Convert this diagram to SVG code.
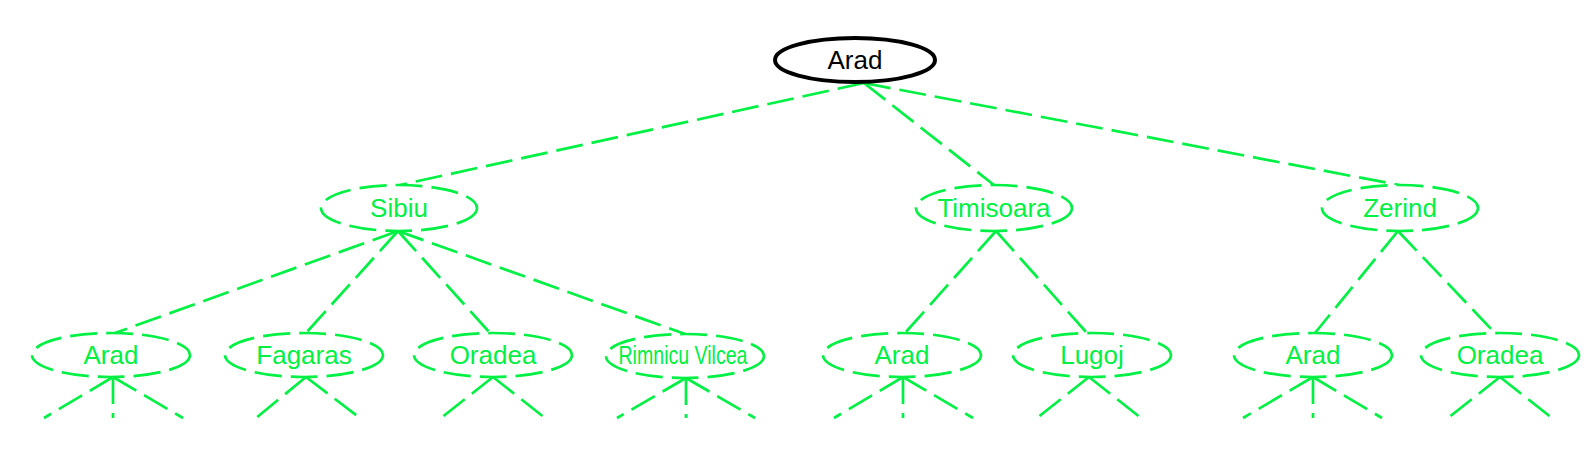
<svg xmlns="http://www.w3.org/2000/svg" width="1596" height="460" viewBox="0 0 1596 460">
<style>
.e{stroke:#00f044;stroke-width:2.7;stroke-dasharray:27 9;fill:none}
.n{fill:#ffffff;stroke:#00f044;stroke-width:2.7;stroke-dasharray:27 9}
.t{font-family:"Liberation Sans",Arial,sans-serif;font-size:26px;text-anchor:middle;fill:#00f044}
.root{fill:#ffffff;stroke:#000000;stroke-width:4}
.rt{font-family:"Liberation Sans",Arial,sans-serif;font-size:26px;text-anchor:middle;fill:#000000}
</style>
<rect width="1596" height="460" fill="#ffffff"/>
<g id="connectors">
<line class="e" x1="864" y1="83" x2="400" y2="185"/>
<line class="e" x1="864" y1="83" x2="994" y2="185"/>
<line class="e" x1="864" y1="83" x2="1399" y2="185"/>
<line class="e" x1="398" y1="231" x2="115" y2="333"/>
<line class="e" x1="398" y1="231" x2="306" y2="333"/>
<line class="e" x1="398" y1="231" x2="490" y2="333"/>
<line class="e" x1="398" y1="231" x2="685" y2="334"/>
<line class="e" x1="996" y1="231" x2="905" y2="333"/>
<line class="e" x1="996" y1="231" x2="1087" y2="333"/>
<line class="e" x1="1398" y1="231" x2="1315" y2="333"/>
<line class="e" x1="1398" y1="231" x2="1495" y2="333"/>
<line class="e" x1="113" y1="377" x2="44" y2="418"/>
<line class="e" x1="113" y1="377" x2="113" y2="418"/>
<line class="e" x1="113" y1="377" x2="183" y2="418"/>
<line class="e" x1="306" y1="377" x2="256" y2="418"/>
<line class="e" x1="306" y1="377" x2="360" y2="418"/>
<line class="e" x1="493" y1="377" x2="441" y2="418"/>
<line class="e" x1="493" y1="377" x2="545" y2="418"/>
<line class="e" x1="686" y1="378" x2="617" y2="418"/>
<line class="e" x1="686" y1="378" x2="686" y2="418"/>
<line class="e" x1="686" y1="378" x2="755" y2="418"/>
<line class="e" x1="903" y1="377" x2="834" y2="418"/>
<line class="e" x1="903" y1="377" x2="903" y2="418"/>
<line class="e" x1="903" y1="377" x2="973" y2="418"/>
<line class="e" x1="1089" y1="377" x2="1037" y2="418"/>
<line class="e" x1="1089" y1="377" x2="1141" y2="418"/>
<line class="e" x1="1313" y1="377" x2="1243" y2="418"/>
<line class="e" x1="1313" y1="377" x2="1313" y2="418"/>
<line class="e" x1="1313" y1="377" x2="1382" y2="418"/>
<line class="e" x1="1500" y1="377" x2="1448" y2="418"/>
<line class="e" x1="1500" y1="377" x2="1552" y2="418"/>
</g>
<g id="n0"><ellipse class="root" cx="855" cy="60" rx="80" ry="22"/><text class="rt" x="855" y="69">Arad</text></g>
<g id="n1"><ellipse class="n" cx="399" cy="208" rx="78" ry="23"/><text class="t" x="399" y="217">Sibiu</text></g>
<g id="n2"><ellipse class="n" cx="994" cy="208" rx="78" ry="23"/><text class="t" x="994" y="217">Timisoara</text></g>
<g id="n3"><ellipse class="n" cx="1400" cy="208" rx="78" ry="23"/><text class="t" x="1400" y="217">Zerind</text></g>
<g id="n4"><ellipse class="n" cx="111" cy="355" rx="79" ry="22"/><text class="t" x="111" y="364">Arad</text></g>
<g id="n5"><ellipse class="n" cx="304" cy="355" rx="79" ry="22"/><text class="t" x="304" y="364">Fagaras</text></g>
<g id="n6"><ellipse class="n" cx="493" cy="355" rx="79" ry="22"/><text class="t" x="493" y="364">Oradea</text></g>
<g id="n7"><ellipse class="n" cx="685" cy="356" rx="79" ry="22"/><text class="t" x="683" y="364" textLength="129" lengthAdjust="spacingAndGlyphs">Rimnicu Vilcea</text></g>
<g id="n8"><ellipse class="n" cx="902" cy="355" rx="79" ry="22"/><text class="t" x="902" y="364">Arad</text></g>
<g id="n9"><ellipse class="n" cx="1092" cy="355" rx="79" ry="22"/><text class="t" x="1092" y="364">Lugoj</text></g>
<g id="n10"><ellipse class="n" cx="1313" cy="355" rx="79" ry="22"/><text class="t" x="1313" y="364">Arad</text></g>
<g id="n11"><ellipse class="n" cx="1500" cy="355" rx="79" ry="22"/><text class="t" x="1500" y="364">Oradea</text></g>
</svg>
